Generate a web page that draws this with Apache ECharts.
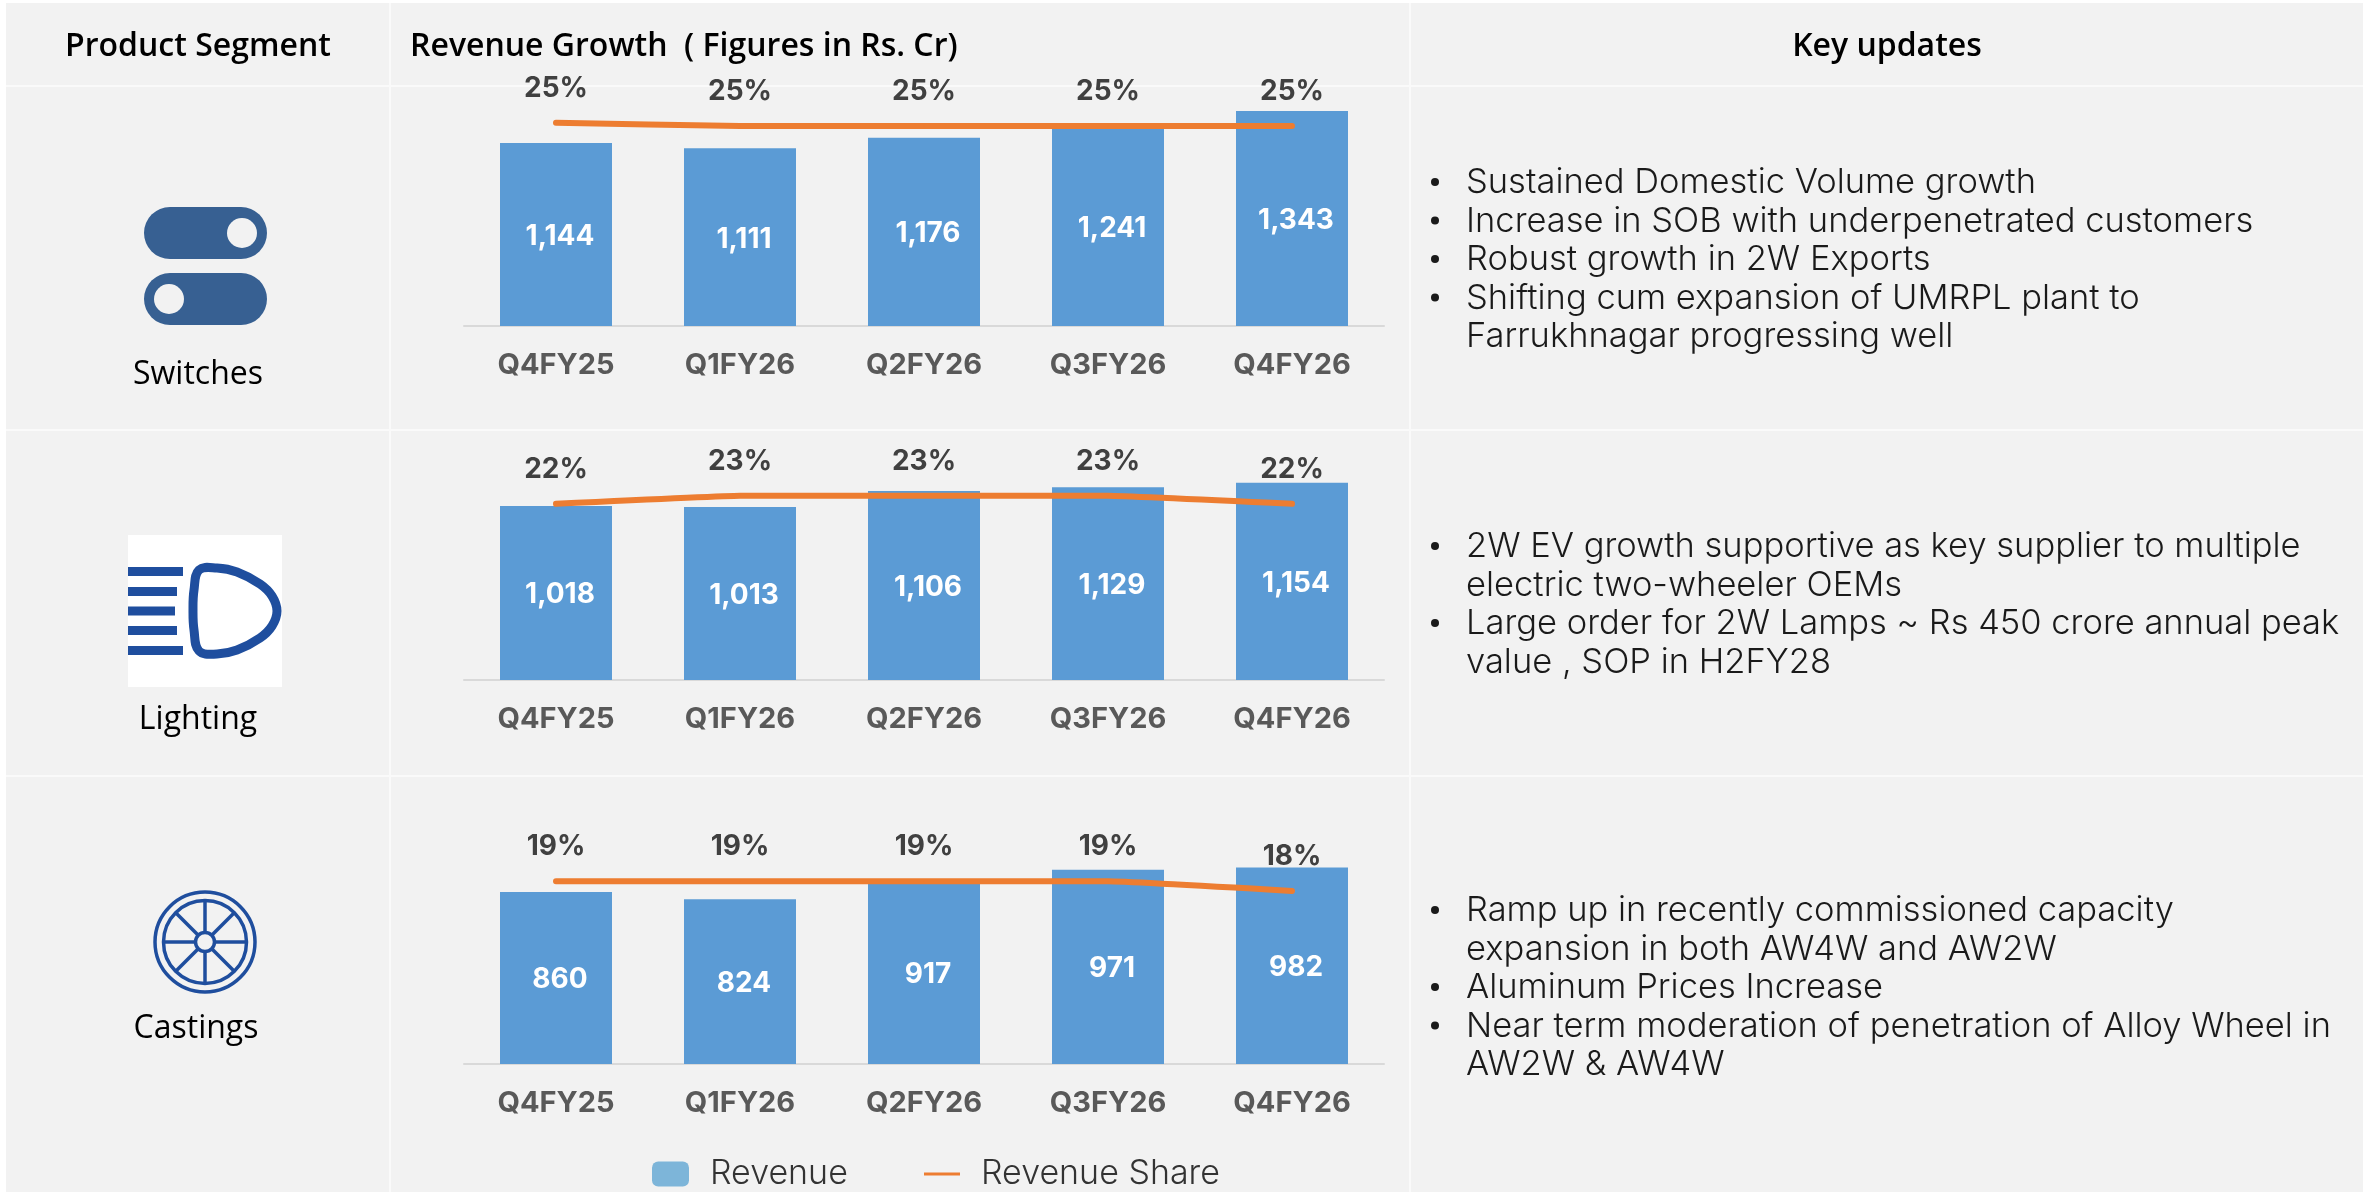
<!DOCTYPE html>
<html>
<head>
<meta charset="utf-8">
<title>Segment revenue</title>
<style>
  html, body { margin: 0; padding: 0; background: #fff; }
  #chart { width: 2369px; height: 1192px; }
</style>
<script src="https://cdn.jsdelivr.net/npm/echarts@6/dist/echarts.min.js"></script>
</head>
<body>
<div id="chart"></div>
<script>
// chart data
const quarters = ['Q4FY25', 'Q1FY26', 'Q2FY26', 'Q3FY26', 'Q4FY26'];

const switchRevenue = [1144, 1111, 1176, 1241, 1343];
const lightingRevenue = [1018, 1013, 1106, 1129, 1154];
const castingRevenue = [860, 824, 917, 971, 982];

const switchShare = [25.4, 25, 25, 25, 25];
const lightingShare = [22, 23, 23, 23, 22];
const castingShare = [19, 19, 19, 19, 18];

const switchUpdates = [
  ['Sustained Domestic Volume growth'],
  ['Increase in SOB with underpenetrated customers'],
  ['Robust growth in 2W Exports'],
  ['Shifting cum expansion of UMRPL plant to', 'Farrukhnagar progressing well']
];
const lightingUpdates = [
  ['2W EV growth supportive as key supplier to multiple', 'electric two-wheeler OEMs'],
  ['Large order for 2W Lamps ~ Rs 450 crore annual peak', 'value , SOP in H2FY28']
];
const castingUpdates = [
  ['Ramp up in recently commissioned capacity', 'expansion in both AW4W and AW2W'],
  ['Aluminum Prices Increase'],
  ['Near term moderation of penetration of Alloy Wheel in', 'AW2W & AW4W']
];

const BAR_COLOR = '#5B9BD5';
const LINE_COLOR = '#ED7D31';
const ICON_BLUE = '#1F4E9E';
const PANEL = '#F2F2F2';
const LABEL_FONT = 'Inter';
const HEAD_FONT = '"Open Sans"';

const panels = [
  { revenue: switchRevenue, share: switchShare, top: 102, height: 224, revMax: 1400, shareMax: 28 },
  { revenue: lightingRevenue, share: lightingShare, top: 475, height: 205, revMax: 1200, shareMax: 25.6 },
  { revenue: castingRevenue, share: castingShare, top: 864, height: 200, revMax: 1000, shareMax: 20.8 }
];

const grid = [], xAxis = [], yAxis = [], series = [];
panels.forEach((p, i) => {
  grid.push({ left: 464, width: 920, top: p.top, height: p.height });
  xAxis.push({
    type: 'category',
    gridIndex: i,
    data: quarters,
    axisTick: { show: false },
    axisLine: { lineStyle: { color: '#D9D9D9', width: 2 } },
    axisLabel: { color: '#595959', fontFamily: LABEL_FONT, fontWeight: 700, fontSize: 29, margin: 25 }
  });
  yAxis.push({ type: 'value', gridIndex: i, min: 0, max: p.revMax, show: false });
  yAxis.push({ type: 'value', gridIndex: i, min: 0, max: p.shareMax, show: false });
  series.push({
    name: 'Revenue',
    type: 'bar',
    xAxisIndex: i,
    yAxisIndex: i * 2,
    barWidth: 112,
    data: p.revenue,
    itemStyle: { color: BAR_COLOR },
    label: {
      show: true,
      position: 'inside',
      offset: [4, 2],
      color: '#fff',
      fontFamily: LABEL_FONT,
      fontWeight: 700,
      fontSize: 28,
      formatter: (d) => d.value.toLocaleString('en-US')
    }
  });
  series.push({
    name: 'Revenue Share',
    type: 'line',
    xAxisIndex: i,
    yAxisIndex: i * 2 + 1,
    data: p.share,
    smooth: 0.08,
    symbol: 'circle',
    symbolSize: 1,
    z: 5,
    lineStyle: { color: LINE_COLOR, width: 6, cap: 'round' },
    itemStyle: { color: LINE_COLOR },
    label: {
      show: true,
      position: 'top',
      distance: 20,
      color: '#404040',
      fontFamily: LABEL_FONT,
      fontWeight: 700,
      fontSize: 28,
      formatter: (d) => Math.round(d.value) + '%'
    }
  });
});

// table background and icons
const graphic = [];
const rect = (x, y, w, h, fill) => graphic.push({ type: 'rect', silent: true, shape: { x, y, width: w, height: h }, style: { fill } });
const text = (x, y, t, font, size, weight, fill, align) => graphic.push({
  type: 'text', silent: true, x, y,
  style: { text: t, fontFamily: font, fontSize: size, fontWeight: weight, fill, align: align || 'left', verticalAlign: 'middle' }
});

rect(6, 3, 2357, 1189, PANEL);
rect(6, 85, 2357, 2, '#FAFAFA');
rect(6, 429, 2357, 2, '#FAFAFA');
rect(6, 775, 2357, 2, '#FAFAFA');
rect(389, 3, 2, 1189, '#FAFAFA');
rect(1409, 3, 2, 1189, '#FAFAFA');

text(198, 47, 'Product Segment', HEAD_FONT, 32, 600, '#000', 'center');
text(410, 47, 'Revenue Growth  ( Figures in Rs. Cr)', HEAD_FONT, 32, 600, '#000');
text(1887, 47, 'Key updates', HEAD_FONT, 32, 600, '#000', 'center');
text(198, 375, 'Switches', HEAD_FONT, 32, 400, '#000', 'center');
text(198, 720, 'Lighting', HEAD_FONT, 32, 400, '#000', 'center');
text(196, 1029, 'Castings', HEAD_FONT, 32, 400, '#000', 'center');

// bullet lists, one entry per bullet, continuation lines hang under it
const addUpdates = (updates, firstY) => {
  let y = firstY;
  updates.forEach((lines) => {
    graphic.push({ type: 'circle', silent: true, shape: { cx: 1435, cy: y, r: 4 }, style: { fill: '#1A1A1A' } });
    lines.forEach((line) => {
      text(1466, y + 1, line, LABEL_FONT, 34.5, 300, '#1A1A1A');
      y += 38.5;
    });
  });
};
addUpdates(switchUpdates, 182);
addUpdates(lightingUpdates, 546);
addUpdates(castingUpdates, 910);

// switches icon
const SWITCH_BLUE = '#376092';
[[207, 242], [273, 169]].forEach(([y, knobX]) => {
  graphic.push({ type: 'rect', silent: true, shape: { x: 144, y, width: 123, height: 52, r: 26 }, style: { fill: SWITCH_BLUE } });
  graphic.push({ type: 'circle', silent: true, shape: { cx: knobX, cy: y + 26, r: 15 }, style: { fill: PANEL } });
});

// lighting icon
rect(128, 535, 154, 152, '#fff');
[[567, 55], [587, 49], [606.5, 47], [626, 49], [646, 55]].forEach(([y, w]) => rect(128, y, w, 9, ICON_BLUE));
graphic.push({
  type: 'polygon', silent: true,
  shape: {
    points: [[199, 570], [217, 568], [237, 572], [260, 584], [272, 596], [277, 611], [272, 626], [260, 638], [237, 650], [217, 654], [199, 651], [194, 630], [193, 610], [194, 590]],
    smooth: 0.4
  },
  style: { fill: '#fff', stroke: ICON_BLUE, lineWidth: 9 }
});

// castings icon
const ring = (r, w) => graphic.push({ type: 'circle', silent: true, shape: { cx: 205, cy: 942, r }, style: { fill: 'none', stroke: ICON_BLUE, lineWidth: w } });
[[205, 901, 205, 983], [164, 942, 246, 942], [176, 913, 234, 971], [234, 913, 176, 971]].forEach(([x1, y1, x2, y2]) => {
  graphic.push({ type: 'line', silent: true, shape: { x1, y1, x2, y2 }, style: { stroke: ICON_BLUE, lineWidth: 3.5 } });
});
ring(50, 3.5);
ring(41.5, 3.5);
graphic.push({ type: 'circle', silent: true, shape: { cx: 205, cy: 942, r: 9.5 }, style: { fill: PANEL, stroke: ICON_BLUE, lineWidth: 3.5 } });

const legendText = { color: '#333', fontFamily: LABEL_FONT, fontWeight: 300, fontSize: 34, padding: [0, 0, 0, 16] };

const chart = echarts.init(document.getElementById('chart'));
chart.setOption({
  animation: false,
  backgroundColor: '#fff',
  grid,
  xAxis,
  yAxis,
  series,
  graphic: { elements: graphic.map((g) => Object.assign({ z: -10 }, g)) },
  legend: [
    {
      data: [{ name: 'Revenue', icon: 'roundRect', itemStyle: { color: '#7DB5D9' } }],
      left: 652, top: 1157, itemWidth: 37, itemHeight: 25, padding: 0, textStyle: legendText, selectedMode: false
    },
    {
      data: [{ name: 'Revenue Share', icon: 'rect', itemStyle: { color: LINE_COLOR } }],
      left: 924, top: 1157, itemWidth: 36, itemHeight: 3, padding: 0, textStyle: legendText, selectedMode: false
    }
  ]
});
</script>
</body>
</html>
